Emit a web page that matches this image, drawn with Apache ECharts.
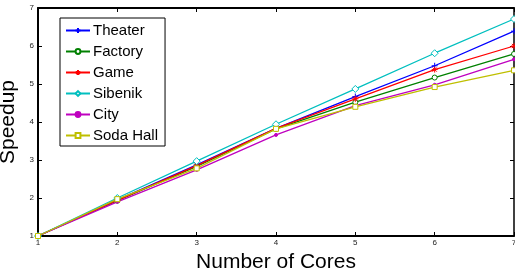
<!DOCTYPE html>
<html>
<head>
<meta charset="utf-8">
<script src="https://cdn.jsdelivr.net/npm/echarts@6/dist/echarts.min.js"></script>
<style>
  html, body { margin: 0; padding: 0; background: #fff; }
  #chart { width: 515px; height: 272px; }
</style>
</head>
<body>
<div id="chart"></div>
<script>
const cores = [1, 2, 3, 4, 5, 6, 7];
const theater = [1, 1.95, 2.87, 3.83, 4.67, 5.48, 6.39];
const factory = [1, 1.93, 2.83, 3.82, 4.52, 5.17, 5.79];
const game = [1, 1.94, 2.85, 3.83, 4.61, 5.38, 6.0];
const sibenik = [1, 2.0, 2.97, 3.94, 4.87, 5.81, 6.71];
const city = [1, 1.9, 2.74, 3.66, 4.43, 4.98, 5.65];
const sodaHall = [1, 1.97, 2.78, 3.82, 4.4, 4.92, 5.36];
const yTicks = [1, 2, 3, 4, 5, 6, 7];

const plusPath = "path://M5,0L5,10M0,5L10,5";
const starPath = "path://M5,0L5,10M0,5L10,5M1.5,1.5L8.5,8.5M8.5,1.5L1.5,8.5";

function pairs(vals) {
    return cores.map(function (c, i) { return [c, vals[i]]; });
}

function makeSeries(name, vals, color, symbol, size, fill) {
    return {
        name: name,
        type: "line",
        data: pairs(vals),
        symbol: symbol,
        symbolSize: size,
        showSymbol: true,
        lineStyle: { color: color, width: 1.3 },
        itemStyle: { color: fill ? color : "#fff", borderColor: color, borderWidth: 1 },
        color: color,
        animation: false,
    };
}

const chartDom = document.getElementById("chart");
const myChart = echarts.init(chartDom);

const axisLine = { show: true, lineStyle: { color: "#000", width: 2 } };
const option = {
    backgroundColor: "#fff",
    textStyle: { fontFamily: "Arial, 'Liberation Sans', sans-serif" },
    grid: { left: 38, right: 1, top: 8, bottom: 36, outerBoundsMode: "none", containLabel: false },
    legend: {
        orient: "vertical",
        left: 60,
        top: 18,
        itemWidth: 24,
        itemHeight: 6,
        itemGap: 6,
        padding: [5, 7, 3, 5],
        borderColor: "#000",
        borderWidth: 1,
        backgroundColor: "#fff",
        textStyle: { fontSize: 15, color: "#000", padding: [0, 0, 0, -2] },
        data: ["Theater", "Factory", "Game", "Sibenik", "City", "Soda Hall"],
    },
    xAxis: [
        {
            type: "value",
            min: 1,
            max: 7,
            interval: 1,
            name: "Number of Cores",
            nameLocation: "middle",
            nameGap: 11,
            nameTextStyle: { fontSize: 21, color: "#000" },
            axisLine: axisLine,
            axisTick: { inside: true, length: 4, lineStyle: { color: "#000" } },
            axisLabel: { fontSize: 8, color: "#222", margin: 3 },
            splitLine: { show: false },
        },
        {
            type: "value",
            position: "top",
            min: 1,
            max: 7,
            interval: 1,
            axisLine: axisLine,
            axisTick: { inside: true, length: 4, lineStyle: { color: "#000" } },
            axisLabel: { show: false },
            splitLine: { show: false },
        },
    ],
    yAxis: [
        {
            type: "value",
            min: yTicks[0],
            max: yTicks[yTicks.length - 1],
            interval: 1,
            name: "Speedup",
            nameLocation: "middle",
            nameGap: 13,
            nameTextStyle: { fontSize: 21, color: "#000" },
            axisLine: axisLine,
            axisTick: { inside: true, length: 4, lineStyle: { color: "#000" } },
            axisLabel: { fontSize: 8, color: "#222", margin: 4 },
            splitLine: { show: false },
        },
        {
            type: "value",
            position: "right",
            min: yTicks[0],
            max: yTicks[yTicks.length - 1],
            interval: 1,
            axisLine: { show: true, lineStyle: { color: "#000", width: 1.5 } },
            axisTick: { inside: true, length: 4, lineStyle: { color: "#000" } },
            axisLabel: { show: false },
            splitLine: { show: false },
        },
    ],
    series: [
        makeSeries("Theater", theater, "#0000ff", plusPath, 6, false),
        makeSeries("Factory", factory, "#008000", "circle", 5, false),
        makeSeries("Game", game, "#ff0000", starPath, 6, false),
        makeSeries("Sibenik", sibenik, "#00bfbf", "diamond", 7, false),
        makeSeries("City", city, "#bf00bf", "circle", 3, true),
        makeSeries("Soda Hall", sodaHall, "#bfbf00", "rect", 5, false),
    ],
};
myChart.setOption(option);

window.addEventListener("resize", function () {
    myChart.resize();
});
</script>
</body>
</html>
